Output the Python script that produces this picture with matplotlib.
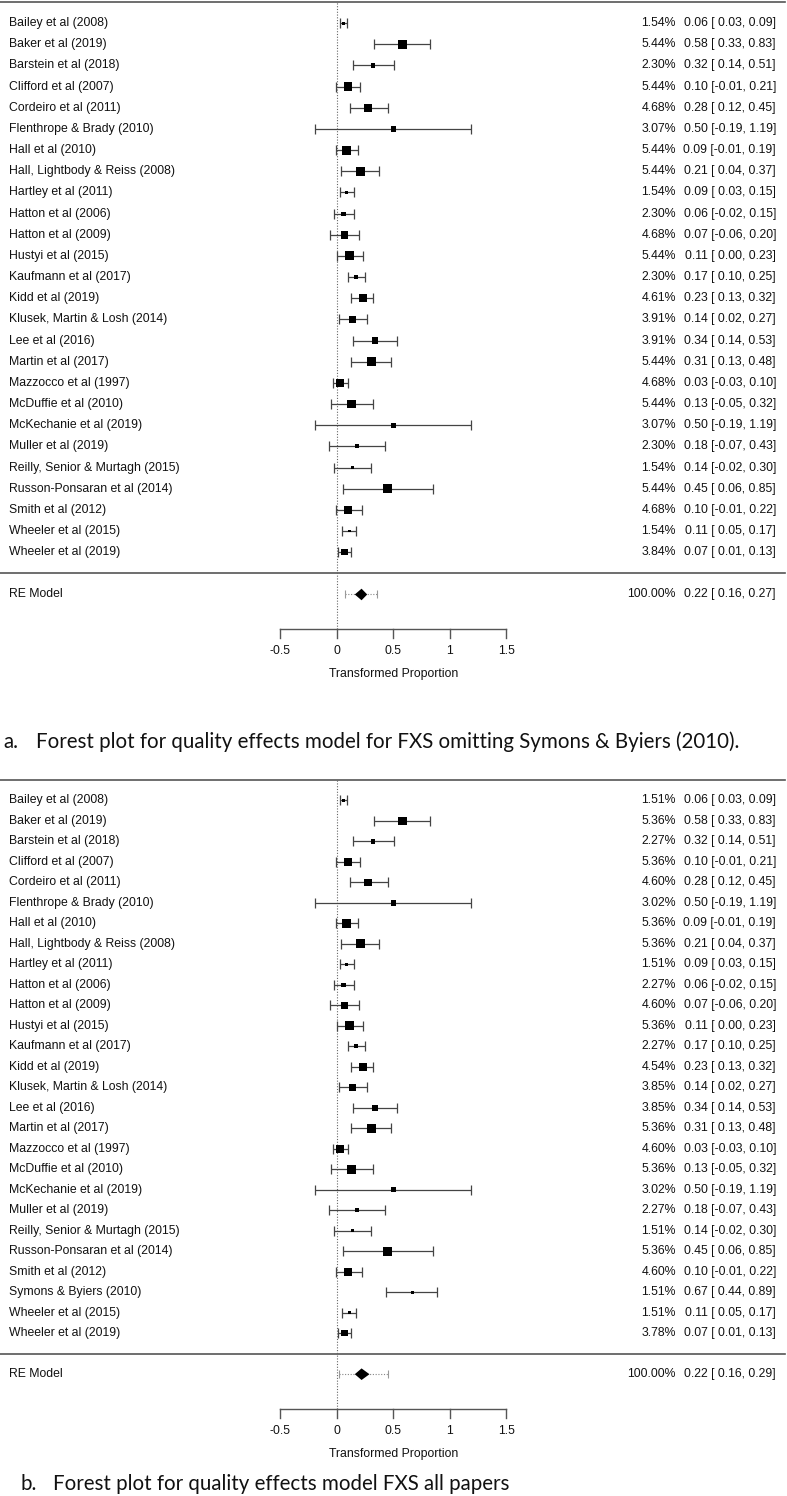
import matplotlib
matplotlib.use("Agg")
import matplotlib.pyplot as plt
import numpy as np

# ---------------- data ----------------
studies_a = ["Bailey et al (2008)", "Baker et al (2019)", "Barstein et al (2018)",
             "Clifford et al (2007)", "Cordeiro et al (2011)", "Flenthrope & Brady (2010)",
             "Hall et al (2010)", "Hall, Lightbody & Reiss (2008)", "Hartley et al (2011)",
             "Hatton et al (2006)", "Hatton et al (2009)", "Hustyi et al (2015)",
             "Kaufmann et al (2017)", "Kidd et al (2019)", "Klusek, Martin & Losh (2014)",
             "Lee et al (2016)", "Martin et al (2017)", "Mazzocco et al (1997)",
             "McDuffie et al (2010)", "McKechanie et al (2019)", "Muller et al (2019)",
             "Reilly, Senior & Murtagh (2015)", "Russon-Ponsaran et al (2014)",
             "Smith et al (2012)", "Wheeler et al (2015)", "Wheeler et al (2019)"]
est_a = [0.06, 0.58, 0.32, 0.10, 0.28, 0.50, 0.09, 0.21, 0.09, 0.06, 0.07, 0.11, 0.17,
         0.23, 0.14, 0.34, 0.31, 0.03, 0.13, 0.50, 0.18, 0.14, 0.45, 0.10, 0.11, 0.07]
lo_a = [0.03, 0.33, 0.14, -0.01, 0.12, -0.19, -0.01, 0.04, 0.03, -0.02, -0.06, 0.00, 0.10,
        0.13, 0.02, 0.14, 0.13, -0.03, -0.05, -0.19, -0.07, -0.02, 0.06, -0.01, 0.05, 0.01]
hi_a = [0.09, 0.83, 0.51, 0.21, 0.45, 1.19, 0.19, 0.37, 0.15, 0.15, 0.20, 0.23, 0.25,
        0.32, 0.27, 0.53, 0.48, 0.10, 0.32, 1.19, 0.43, 0.30, 0.85, 0.22, 0.17, 0.13]
wt_a = [1.54, 5.44, 2.30, 5.44, 4.68, 3.07, 5.44, 5.44, 1.54, 2.30, 4.68, 5.44, 2.30,
        4.61, 3.91, 3.91, 5.44, 4.68, 5.44, 3.07, 2.30, 1.54, 5.44, 4.68, 1.54, 3.84]
re_a = (0.22, 0.16, 0.27)
pi_a = (0.07, 0.36)

studies_b = ["Bailey et al (2008)", "Baker et al (2019)", "Barstein et al (2018)",
             "Clifford et al (2007)", "Cordeiro et al (2011)", "Flenthrope & Brady (2010)",
             "Hall et al (2010)", "Hall, Lightbody & Reiss (2008)", "Hartley et al (2011)",
             "Hatton et al (2006)", "Hatton et al (2009)", "Hustyi et al (2015)",
             "Kaufmann et al (2017)", "Kidd et al (2019)", "Klusek, Martin & Losh (2014)",
             "Lee et al (2016)", "Martin et al (2017)", "Mazzocco et al (1997)",
             "McDuffie et al (2010)", "McKechanie et al (2019)", "Muller et al (2019)",
             "Reilly, Senior & Murtagh (2015)", "Russon-Ponsaran et al (2014)",
             "Smith et al (2012)", "Symons & Byiers (2010)", "Wheeler et al (2015)",
             "Wheeler et al (2019)"]
est_b = [0.06, 0.58, 0.32, 0.10, 0.28, 0.50, 0.09, 0.21, 0.09, 0.06, 0.07, 0.11, 0.17,
         0.23, 0.14, 0.34, 0.31, 0.03, 0.13, 0.50, 0.18, 0.14, 0.45, 0.10, 0.67, 0.11, 0.07]
lo_b = [0.03, 0.33, 0.14, -0.01, 0.12, -0.19, -0.01, 0.04, 0.03, -0.02, -0.06, 0.00, 0.10,
        0.13, 0.02, 0.14, 0.13, -0.03, -0.05, -0.19, -0.07, -0.02, 0.06, -0.01, 0.44, 0.05, 0.01]
hi_b = [0.09, 0.83, 0.51, 0.21, 0.45, 1.19, 0.19, 0.37, 0.15, 0.15, 0.20, 0.23, 0.25,
        0.32, 0.27, 0.53, 0.48, 0.10, 0.32, 1.19, 0.43, 0.30, 0.85, 0.22, 0.89, 0.17, 0.13]
wt_b = [1.51, 5.36, 2.27, 5.36, 4.60, 3.02, 5.36, 5.36, 1.51, 2.27, 4.60, 5.36, 2.27,
        4.54, 3.85, 3.85, 5.36, 4.60, 5.36, 3.02, 2.27, 1.51, 5.36, 4.60, 1.51, 1.51, 3.78]
re_b = (0.22, 0.16, 0.29)
pi_b = (0.02, 0.45)

xticks = [-0.5, 0, 0.5, 1, 1.5]
xtick_labels = ["-0.5", "0", "0.5", "1", "1.5"]
xlabel = "Transformed Proportion"
caption_a = ("a.", "Forest plot for quality effects model for FXS omitting Symons & Byiers (2010).")
caption_b = ("b.", "Forest plot for quality effects model FXS all papers")

# ---------------- layout ----------------
W, H = 787, 1496
fig = plt.figure(figsize=(W / 100, H / 100), dpi=100)
ZERO_PX, UNIT_X = 336.7, 113.0
XLIM = (-ZERO_PX / UNIT_X, (W - ZERO_PX) / UNIT_X)

TXT = "#111111"
LINE = "#555555"
FONT = "Liberation Sans"
FS = 8.8


def panel(top_px, bot_px, first_top_px, unit, names, est, lo, hi, wt, re, pi):
    k = len(names)
    ax = fig.add_axes([0, 1 - bot_px / H, 1, (bot_px - top_px) / H])
    r_top = (k + 1) + (first_top_px - top_px) / unit
    r_bot = r_top - (bot_px - top_px) / unit
    ax.set_xlim(*XLIM)
    ax.set_ylim(r_bot, r_top)
    ax.axis("off")
    rows = np.arange(k, 0, -1)
    px = 1.0 / unit  # one pixel in y units
    ytr = ax.get_yaxis_transform()

    # horizontal lines
    ax.plot([XLIM[0], XLIM[0] + 785 / UNIT_X], [k + 1, k + 1], color=LINE, lw=1.2)
    ax.plot([XLIM[0], XLIM[0] + 785 / UNIT_X], [0, 0], color=LINE, lw=1.2)
    axis_r = -1 - 35 * px
    # reference line
    ax.plot([0, 0], [axis_r, k + 1], color="#666666", lw=0.8, ls=(0, (1, 1.5)))

    # error bars
    est = np.array(est); lo = np.array(lo); hi = np.array(hi); wt = np.array(wt)
    ax.errorbar(est, rows, xerr=[est - lo, hi - est], fmt="none", ecolor="#444444",
                elinewidth=0.9, capsize=3.3, capthick=0.9)
    norm = (wt - wt.min()) / (wt.max() - wt.min())
    msize = 6.4 * (0.5 + norm) / 1.5
    ax.scatter(est, rows, marker="s", s=msize ** 2, color="black", zorder=3, linewidths=0)

    # RE model
    m, l, h = re
    ax.plot([pi[0], pi[1]], [-1, -1], color="#888888", lw=0.8, ls=(0, (1, 1.5)))
    ax.errorbar([m], [-1], xerr=[[m - pi[0]], [pi[1] - m]], fmt="none", ecolor="#999999",
                elinewidth=0, capsize=3.0, capthick=0.8)
    dh = 5.8 * px
    ax.fill([l, m, h, m], [-1, -1 + dh, -1, -1 - dh], color="black", zorder=4, lw=0)

    # text columns
    for r, name, e, a, b, w in zip(rows, names, est, lo, hi, wt):
        ax.text(9 / W, r, name, transform=ytr, ha="left",
                va="center", fontsize=FS, family=FONT, color=TXT)
        ax.text(676 / W, r, f"{w:.2f}%", transform=ytr, ha="right",
                va="center", fontsize=FS, family=FONT, color=TXT)
        ax.text(776 / W, r, f"{e:.2f} [{a:5.2f}, {b:.2f}]",
                transform=ytr, ha="right", va="center",
                fontsize=FS, family=FONT, color=TXT)
    ax.text(9 / W, -1, "RE Model", transform=ytr, ha="left",
            va="center", fontsize=FS, family=FONT, color=TXT)
    ax.text(676 / W, -1, "100.00%", transform=ytr, ha="right",
            va="center", fontsize=FS, family=FONT, color=TXT)
    ax.text(776 / W, -1, f"{m:.2f} [{l:5.2f}, {h:.2f}]", transform=ytr,
            ha="right", va="center", fontsize=FS, family=FONT, color=TXT)

    # x axis
    ax.plot([xticks[0], xticks[-1]], [axis_r, axis_r], color=LINE, lw=1.0)
    for t, lab in zip(xticks, xtick_labels):
        ax.plot([t, t], [axis_r, axis_r - 9 * px], color=LINE, lw=1.0)
        ax.annotate(lab, (t, axis_r), xytext=(0, -22 * 0.72), textcoords="offset points",
                    ha="center", va="center", fontsize=FS, family=FONT, color=TXT)
    ax.annotate(xlabel, (0.5, axis_r), xytext=(0, -45 * 0.72), textcoords="offset points",
                ha="center", va="center", fontsize=FS, family=FONT, color=TXT)
    return ax


panel(0, 700, 2, 21.16, studies_a, est_a, lo_a, hi_a, wt_a, re_a, pi_a)
panel(760, 1470, 780, 20.49, studies_b, est_b, lo_b, hi_b, wt_b, re_b, pi_b)

CAP_FONT = ["Lato", "DejaVu Sans"]
CAP_FS = 14.8
fig.text(3 / W, 1 - 742 / H, caption_a[0], ha="left", va="center", fontsize=CAP_FS,
         family=CAP_FONT, color=TXT)
fig.text(36 / W, 1 - 742 / H, caption_a[1], ha="left", va="center", fontsize=CAP_FS,
         family=CAP_FONT, color=TXT)
fig.text(20 / W, 1 - 1484 / H, caption_b[0], ha="left", va="center", fontsize=CAP_FS,
         family=CAP_FONT, color=TXT)
fig.text(53 / W, 1 - 1484 / H, caption_b[1], ha="left", va="center", fontsize=CAP_FS,
         family=CAP_FONT, color=TXT)

fig.savefig("out.png", dpi=100, facecolor="white")
